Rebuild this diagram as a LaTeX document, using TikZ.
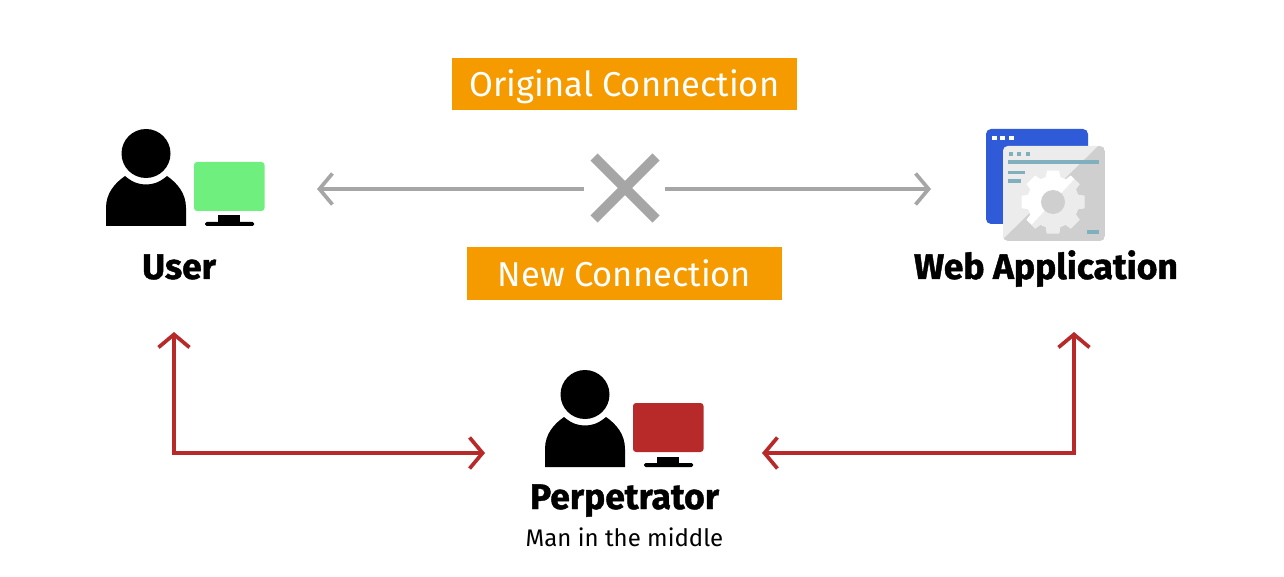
\documentclass[tikz,border=0pt]{standalone}
\usepackage{fontspec}
\setmainfont{Fira Sans}
\newfontfamily\heavyfont[BoldFeatures={FakeBold=1.2}]{Fira Sans}
\usetikzlibrary{arrows.meta}
\definecolor{boxorange}{HTML}{F59B00}
\definecolor{linegray}{HTML}{A6A6A6}
\definecolor{linered}{HTML}{B82A2A}
\definecolor{screengreen}{HTML}{6FF07E}
\definecolor{winblue}{HTML}{2F5BD8}
\definecolor{pagelight}{HTML}{ECECEC}
\definecolor{pagedark}{HTML}{CFCFCF}
\definecolor{teal}{HTML}{80B0BE}
\tikzset{
  x=1pt,y=-1pt,
  banner/.style={fill=boxorange,text=white,inner sep=0pt,text height=26pt,text depth=0pt,font=\fontsize{34.5}{36}\selectfont},
  heading/.style={inner sep=0pt,anchor=base,font=\heavyfont\bfseries\fontsize{35.5}{38}\selectfont},
  subtext/.style={inner sep=0pt,anchor=base,font=\fontsize{24}{28}\selectfont},
  grayarrow/.style={draw=linegray,line width=3.7pt,-{Straight Barb[length=13pt,width=31pt,line width=3.7pt]}},
  redarrow/.style={draw=linered,line width=3.7pt,{Straight Barb[length=13pt,width=31pt,line width=3.7pt]}-{Straight Barb[length=13pt,width=31pt,line width=3.7pt]}},
  pics/station/.style={code={
    \fill[black] (146,153.5) circle[radius=24.5];
    \fill[black] (106,226) -- (106,208) .. controls (106,193) and (115,183) .. (125,176)
      .. controls (133,183) and (140,184.5) .. (146,184.5) .. controls (152,184.5) and (159,183) .. (167,176)
      .. controls (177,183) and (186,193) .. (186,208) -- (186,226) -- cycle;
    \fill[#1,rounded corners=3pt] (194,162) rectangle (264.5,211);
    \fill[black] (218,215.5) rectangle (240,222);
    \fill[black,rounded corners=1.5pt] (205,222) rectangle (254,226);
  }}
}
\begin{document}
\begin{tikzpicture}
\useasboundingbox (0,0) rectangle (1284,577);
% banners
\node[banner,minimum width=345pt,minimum height=52pt] (orig) at (624.5,84) {Original Connection};
\node[banner,minimum width=315pt,minimum height=53pt] (new) at (624.5,273.5) {New Connection};
% icons
\pic {station={screengreen}};
\pic at (439,241) {station={linered}};
% web application icon
\fill[winblue,rounded corners=5pt] (986,129) rectangle (1088,224);
\foreach \i in {992,1000,1008.5} \fill[white] (\i,136) rectangle ++(5,4.5);
\begin{scope}
  \clip[rounded corners=5pt] (1003,146) rectangle (1105,241);
  \fill[pagedark] (1003,146) rectangle (1105,241);
  \fill[pagelight] (1003,146) -- (1098,146) -- (1003,239) -- cycle;
\end{scope}
\foreach \i in {1008.5,1017,1025.5} \fill[teal] (\i,152) rectangle ++(4,4);
\fill[teal] (1008,160.5) rectangle (1099,164);
\fill[teal] (1008,171) rectangle (1025,174.5);
\fill[teal] (1008,179.5) rectangle (1021,183);
\fill[teal] (1087,230) rectangle (1099,234);
\def\gearpath{
  (11:32)
  \foreach \a in {0,45,...,315} {
    -- (\a-11:32) -- (\a+11:32) -- (\a+16:26) -- (\a+29:26) -- (\a+34:32)
  } -- cycle}
\begin{scope}[shift={(1053,202)},y=1pt]
  \fill[white] \gearpath;
  \begin{scope}
    \clip (-45,-48) -- (45,48) -- (60,-60) -- cycle;
    \fill[pagelight] \gearpath;
  \end{scope}
  \fill[pagedark] (0,0) circle[radius=12];
\end{scope}
% cross
\node[minimum width=81pt,minimum height=70pt,inner sep=0pt] (cross) at (624.5,189) {};
\draw[linegray,line width=10pt] (594,157) -- (656,219) (656,157) -- (594,219);
% labels
\node[heading] (userlabel) at (179,279) {User};
\node[heading] (weblabel) at (1046,279) {Web Application};
\node[heading] (perplabel) at (624.5,509) {Perpetrator};
\node[subtext] (perpsub) at (624.5,546) {Man in the middle};
% ports
\coordinate (userport) at (317,189);
\coordinate (webport) at (931,189);
\coordinate (userdown) at (174,332);
\coordinate (webdown) at (1074,332);
\coordinate (perpleft) at (485,453);
\coordinate (perpright) at (762,453);
% connectors
\draw[grayarrow] (cross.west) -- (userport);
\draw[grayarrow] (cross.east) -- (webport);
\draw[redarrow] (userdown) |- (perpleft);
\draw[redarrow] (webdown) |- (perpright);
\end{tikzpicture}
\end{document}
